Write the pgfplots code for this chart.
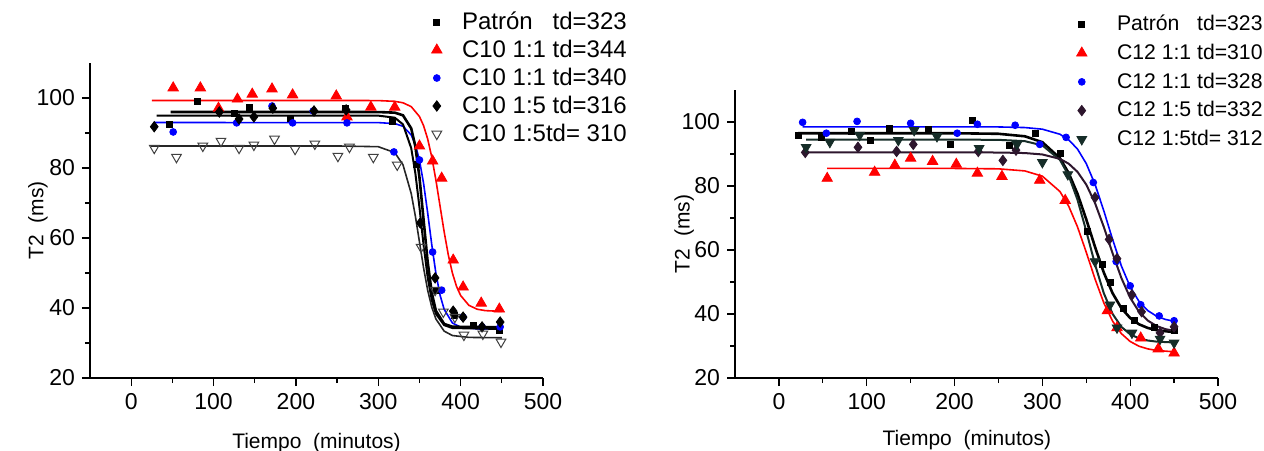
\documentclass[border=0pt]{standalone}
\usepackage{pgfplots}
\pgfplotsset{compat=1.18}
\usepackage{fontspec}
\setmainfont{Liberation Sans}

\definecolor{dpurple}{RGB}{45,22,45}
\definecolor{dslate}{RGB}{22,45,40}

\pgfplotsset{
  origin/.style={
    scale only axis,
    axis lines=left,
    axis line style={-, line width=1pt},
    tick align=outside,
    xmin=-50, xmax=500, ymin=20, ymax=110,
    xtick={0,100,...,500}, ytick={20,40,...,100},
    minor x tick num=1, minor y tick num=1,
    major tick length=4pt, minor tick length=2.5pt,
    every tick/.style={black, line width=0.6pt},
    tick label style={font=\fontsize{11.5}{13}\selectfont},
    /pgf/number format/assume math mode=true,
    label style={font=\fontsize{10.5}{12}\selectfont},
    xlabel={Tiempo\ \ (minutos)},
    ylabel={T2\ \ (ms)},
    legend style={draw=none, fill=none,
      cells={anchor=west}, anchor=north west},
  },
  fit/.style={no marks, line width=1pt, forget plot},
}

\begin{document}
\begin{tikzpicture}
\useasboundingbox (0pt,0pt) rectangle (632pt,225pt);

% ---------------- left: C10 ----------------
\begin{axis}[origin,
  at={(45pt,36pt)}, anchor=south west,
  width=226.5pt, height=157.5pt,
  xlabel style={at={(axis description cs:0.5,-0.205)}, anchor=center},
  ylabel style={at={(axis description cs:-0.115,0.5)}, anchor=center},
  legend style={at={(axis description cs:0.74,1.19)}, /tikz/column sep=8pt,
    font=\fontsize{12}{13}\selectfont, row sep=-0.2pt},
]
\addplot[only marks, mark=square*, mark size=1.5pt, black] coordinates {
 (47,92.6) (80,98.9) (125,95.7) (143,97.4) (193,94.3) (260,96.9) (317,93.4)
 (346,80.9) (370,45) (392,38) (415,35) (447,33.5)};
\addplot[only marks, mark=triangle*, mark size=3pt, red] coordinates {
 (51,102.9) (84,102.9) (106,97.1) (129,99.7) (147,101.1) (171,102.6) (196,100.9)
 (249,100.6) (262,94.6) (291,97.4) (320,97.4) (350,86.3) (366,82) (377,77.1)
 (391,53.7) (403,46) (425,41.4) (447,39.7)};
\addplot[only marks, mark=*, mark size=1.7pt, blue] coordinates {
 (51,90.3) (128,92.9) (171,97.7) (196,92.9) (221,96.3) (262,92.9) (319,84.6)
 (350,82.3) (366,56) (377,45.1) (403,37.4) (426,34.6) (448,34.6)};
\addplot[only marks, mark=diamond*, mark size=2.6pt, black] coordinates {
 (28,91.8) (107,96) (131,94) (149,94.6) (172,97.1) (222,96.3) (261,96.6)
 (351,64.3) (369,48.6) (391,39.1) (403,37.4) (426,34.6) (448,36)};
\addplot[only marks, mark=triangle, mark size=2.8pt, black!75,
  mark options={rotate=180, fill=white, line width=0.5pt}] coordinates {
 (28,85.7) (55,83.1) (87,86.3) (109,87.7) (131,85.7) (149,86.6) (174,88.3)
 (199,85.4) (223,86.9) (251,83.4) (265,86) (294,83.1) (323,80.9) (352,57.4)
 (369,45.1) (379,38.9) (393,37.4) (404,32.3) (427,32.6) (449,30.3)};
\legend{Patrón\ \ \ td=323, C10 1:1 td=344, C10 1:1 td=340, C10 1:5 td=316, C10 1:5td= 310}

% fitted curves
\addplot[fit, red, line width=0.8pt] coordinates {
 (25,99.3) (250,99.3) (300,99.27) (320,99.05) (330,98.64) (340,97.54) (350,94.72)
 (355,92.11) (360,88.30) (365,83.08) (370,76.53) (375,69.15) (380,61.77) (385,55.22)
 (390,50.0) (395,46.19) (400,43.58) (410,40.77) (420,39.66) (430,39.25) (450,39.03)};
\addplot[fit, blue, line width=0.8pt] coordinates {
 (28,93) (300,92.97) (320,92.69) (330,91.94) (340,89.45) (345,86.71) (350,82.24)
 (355,75.64) (360,67.17) (365,58.03) (370,49.87) (375,43.71) (380,39.62) (390,35.73)
 (400,34.51) (420,34.04) (450,34.0)};
\addplot[fit, black, line width=1.3pt] coordinates {
 (48,96) (300,95.99) (320,95.82) (330,95.06) (340,91.33) (345,86.22) (350,77.37)
 (355,65.25) (360,53.13) (365,44.28) (370,39.17) (380,35.44) (390,34.65) (450,34.5)};
\addplot[fit, black] coordinates {
 (31,95) (300,94.97) (320,94.38) (330,92.47) (340,85.69) (345,78.59) (350,68.83)
 (355,58.06) (360,48.75) (365,42.23) (370,38.33) (380,35.10) (390,34.27) (450,34.0)};
\addplot[fit, black!85, line width=0.8pt] coordinates {
 (24,86.3) (250,86.3) (300,86.09) (320,84.41) (330,80.94) (340,72.73) (345,66.32)
 (350,58.9) (355,51.48) (360,45.07) (365,40.21) (370,36.86) (380,33.39) (390,32.14)
 (410,31.6) (450,31.5)};
\end{axis}

% ---------------- right: C12 ----------------
\begin{axis}[origin,
  at={(367.5pt,36pt)}, anchor=south west,
  width=241.5pt, height=144pt,
  xlabel style={at={(axis description cs:0.48,-0.215)}, anchor=center},
  ylabel style={at={(axis description cs:-0.105,0.5)}, anchor=center},
  legend style={at={(axis description cs:0.694,1.29)}, /tikz/column sep=13pt,
    font=\fontsize{10.6}{12}\selectfont, row sep=1.2pt},
]
\addplot[only marks, mark=square*, mark size=1.5pt, black] coordinates {
 (22,95.9) (48,95.2) (82,97.1) (104,94.3) (126,98) (170,97.7) (195,93) (220,100.6)
 (262,92.7) (292,96.5) (320,90.2) (351,65.8) (368,55.4) (378,49.8) (392,41.6)
 (405,37.9) (428,35.7) (450,35)};
\addplot[only marks, mark=triangle*, mark size=3pt, red] coordinates {
 (55,82.4) (109,84.3) (132,86.5) (150,88.7) (175,87.7) (202,86.8) (226,84) (254,83)
 (297,81.8) (326,75.5) (374,41) (385,35.7) (412,32.5) (432,29.1) (450,27.8)};
\addplot[only marks, mark=*, mark size=1.7pt, blue] coordinates {
 (27,99.9) (54,96.5) (89,100.2) (150,99.6) (203,96.5) (226,99.3) (269,99) (297,93)
 (327,95.2) (358,81.1) (384,56.4) (400,48.8) (412,42.9) (433,39.4) (450,37.9)};
\addplot[only marks, mark=diamond*, mark size=2.6pt, dpurple] coordinates {
 (30,90.5) (90,92.1) (134,90.8) (153,93) (227,90.8) (255,88) (270,91.2)
 (360,76.4) (376,63.3) (385,57.3) (402,46) (413,40.7) (434,34.1) (450,36)};
\addplot[only marks, mark=triangle*, mark size=2.8pt, dslate,
  mark options={rotate=180}] coordinates {
 (31,92.1) (58,93.7) (92,95.9) (136,94.3) (154,97.4) (180,95.5) (228,91.8) (271,93)
 (300,87.4) (329,83.6) (360,56.4) (377,42.9) (385,35.7) (402,34.1) (434,32.2) (450,31)};
\legend{Patrón\ \ \ td=323, C12 1:1 td=310, C12 1:1 td=328, C12 1:5 td=332, C12 1:5td= 312}

% fitted curves
\addplot[fit, blue, line width=0.8pt] coordinates {
 (27,98.5) (200,98.5) (250,98.46) (280,98.27) (300,97.76) (320,96.18) (330,94.43)
 (340,91.55) (350,87.01) (360,80.50) (370,72.24) (380,63.26) (390,55.0) (400,48.49)
 (410,43.96) (420,41.07) (430,39.33) (440,38.31) (450,37.74)};
\addplot[fit, red, line width=0.8pt] coordinates {
 (55,85.5) (200,85.49) (250,85.37) (280,84.72) (300,83.07) (320,78.28) (330,73.69)
 (340,67.24) (350,59.28) (360,50.92) (370,43.46) (380,37.75) (390,33.86) (400,31.41)
 (410,29.94) (420,29.10) (430,28.61) (450,28.19)};
\addplot[fit, black, line width=1.3pt] coordinates {
 (22,96.5) (200,96.49) (250,96.32) (280,95.54) (300,93.70) (320,88.68) (330,84.02)
 (340,77.57) (350,69.56) (360,60.94) (370,52.93) (380,46.47) (390,41.82) (400,38.74)
 (410,36.80) (420,35.64) (430,34.95) (450,34.32)};
\addplot[fit, dslate] coordinates {
 (31,94.5) (200,94.5) (250,94.43) (280,94.02) (300,92.70) (320,88.17) (330,83.23)
 (340,75.71) (350,65.91) (360,55.47) (370,46.47) (380,40.01) (390,35.97) (400,33.66)
 (410,32.39) (420,31.72) (430,31.37) (450,31.10)};
\addplot[fit, dpurple] coordinates {
 (30,90.5) (200,90.5) (250,90.47) (280,90.30) (300,89.86) (320,88.48) (330,86.97)
 (340,84.43) (350,80.44) (360,74.64) (370,67.18) (380,58.94) (390,51.23) (400,45.08)
 (410,40.73) (420,37.95) (430,36.26) (440,35.28) (450,34.72)};
\end{axis}
\end{tikzpicture}
\end{document}
